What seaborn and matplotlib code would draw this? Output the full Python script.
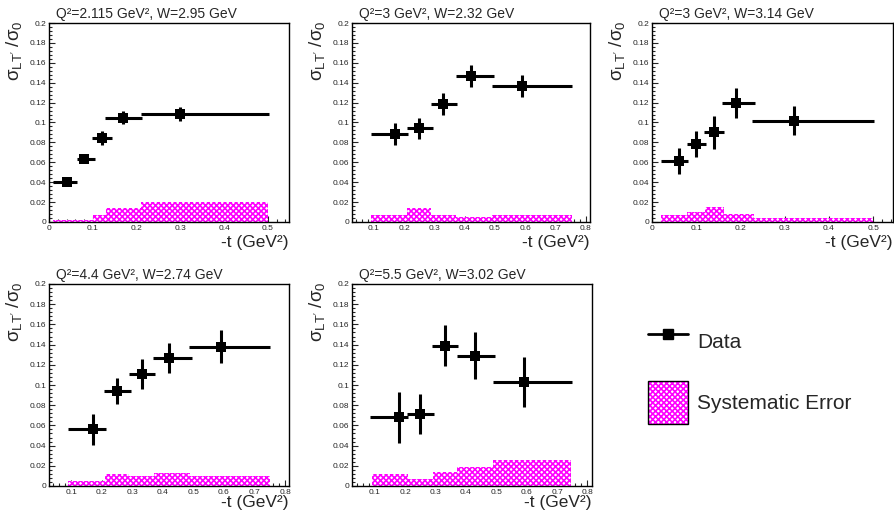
import numpy as np
import pandas as pd
import matplotlib
matplotlib.use('Agg')
import matplotlib.pyplot as plt
from matplotlib.ticker import MultipleLocator, FormatStrFormatter
from matplotlib.lines import Line2D
from matplotlib.patches import Patch
from matplotlib.legend_handler import HandlerTuple
import seaborn as sns

# --- data (-t bins, sigma_LT'/sigma_0) ---
q2_vals = ["2.115", "3", "3", "4.4", "5.5"]
w_vals = ["2.95", "2.32", "3.14", "2.74", "3.02"]

t1 = [0.04, 0.08, 0.12, 0.17, 0.30]
r1 = [0.040, 0.063, 0.084, 0.105, 0.109]
e1 = [0.003, 0.003, 0.007, 0.007, 0.007]
lo1 = [0.010, 0.063, 0.099, 0.129, 0.209]
hi1 = [0.063, 0.104, 0.144, 0.213, 0.503]
edges1 = [0.01, 0.06, 0.10, 0.13, 0.21, 0.50]
sys1 = [0.002, 0.002, 0.007, 0.014, 0.020]

t2 = [0.17, 0.25, 0.33, 0.42, 0.59]
r2 = [0.088, 0.094, 0.119, 0.147, 0.137]
e2 = [0.011, 0.011, 0.011, 0.011, 0.011]
lo2 = [0.091, 0.209, 0.289, 0.370, 0.492]
hi2 = [0.214, 0.296, 0.376, 0.497, 0.755]
edges2 = [0.09, 0.21, 0.29, 0.37, 0.49, 0.755]
sys2 = [0.007, 0.014, 0.007, 0.005, 0.007]

t3 = [0.06, 0.10, 0.14, 0.19, 0.32]
r3 = [0.061, 0.078, 0.090, 0.120, 0.102]
e3 = [0.013, 0.013, 0.017, 0.015, 0.015]
lo3 = [0.020, 0.079, 0.118, 0.159, 0.227]
hi3 = [0.082, 0.123, 0.163, 0.233, 0.501]
edges3 = [0.02, 0.08, 0.12, 0.163, 0.23, 0.50]
sys3 = [0.007, 0.010, 0.015, 0.008, 0.004]

t4 = [0.17, 0.25, 0.33, 0.42, 0.59]
r4 = [0.056, 0.094, 0.111, 0.127, 0.138]
e4 = [0.015, 0.013, 0.015, 0.015, 0.0165]
lo4 = [0.088, 0.208, 0.288, 0.369, 0.487]
hi4 = [0.213, 0.294, 0.374, 0.495, 0.752]
edges4 = [0.088, 0.21, 0.29, 0.37, 0.49, 0.752]
sys4 = [0.005, 0.012, 0.010, 0.013, 0.010]

t5 = [0.18, 0.25, 0.33, 0.43, 0.59]
r5 = [0.068, 0.071, 0.139, 0.129, 0.103]
e5 = [0.025, 0.020, 0.020, 0.023, 0.025]
lo5 = [0.085, 0.205, 0.287, 0.369, 0.489]
hi5 = [0.210, 0.296, 0.375, 0.497, 0.749]
edges5 = [0.09, 0.21, 0.29, 0.37, 0.49, 0.745]
sys5 = [0.012, 0.007, 0.014, 0.019, 0.026]

panels = [
    (t1, r1, e1, lo1, hi1, edges1, sys1),
    (t2, r2, e2, lo2, hi2, edges2, sys2),
    (t3, r3, e3, lo3, hi3, edges3, sys3),
    (t4, r4, e4, lo4, hi4, edges4, sys4),
    (t5, r5, e5, lo5, hi5, edges5, sys5),
]

# --- layout (pixel boxes: left, top, right, bottom) and x ranges ---
W, H = 895, 511
boxes = [(49, 23, 289, 222), (352, 23, 590, 222), (652, 23, 893, 222),
         (49, 284, 289, 486), (352, 284, 592, 486)]
xlims = [(0, 0.548), (0.028, 0.814), (0, 0.545), (0.027, 0.813), (0.025, 0.815)]
xlabel_gap = [21, 21, 21, 16, 16]   # px below the frame

MAGENTA = '#ff00ff'

sns.set_theme(style='ticks')
plt.rcParams['font.family'] = ['Liberation Sans', 'DejaVu Sans']
plt.rcParams['mathtext.fontset'] = 'custom'
plt.rcParams['mathtext.rm'] = 'Liberation Sans'
plt.rcParams['mathtext.it'] = 'Liberation Sans'
plt.rcParams['hatch.linewidth'] = 1.2

fig = plt.figure(figsize=(W / 100, H / 100), dpi=100)

for i, (t, r, e, lo, hi, edges, sy) in enumerate(panels):
    l, tp, rt, bt = boxes[i]
    ax = fig.add_axes([l / W, 1 - bt / H, (rt - l) / W, (bt - tp) / H])

    t = np.array(t)
    centers = [(a + b) / 2 for a, b in zip(edges[:-1], edges[1:])]
    sys_df = pd.DataFrame({'t': centers, 'sys': sy})

    # systematic error histogram
    sns.histplot(data=sys_df, x='t', weights='sys', bins=list(edges), ax=ax,
                 element='bars', facecolor='white', edgecolor=MAGENTA,
                 hatch='xxxxxx', linewidth=0, alpha=1, zorder=1)

    # data points with bin-width and stat errors
    ax.errorbar(t, r, yerr=e, xerr=[t - np.array(lo), np.array(hi) - t],
                fmt='none', ecolor='black', elinewidth=2.2, capsize=0, zorder=2)
    sns.scatterplot(x=t, y=r, marker='s', s=55, color='black', linewidth=0,
                    ax=ax, zorder=3, legend=False)

    ax.set_xlim(*xlims[i])
    ax.set_ylim(0, 0.2)
    ax.set_xlabel('')
    ax.set_ylabel('')

    ax.xaxis.set_major_locator(MultipleLocator(0.1))
    ax.xaxis.set_minor_locator(MultipleLocator(0.02))
    ax.yaxis.set_major_locator(MultipleLocator(0.02))
    ax.yaxis.set_minor_locator(MultipleLocator(0.004))
    ax.xaxis.set_major_formatter(FormatStrFormatter('%g'))
    ax.yaxis.set_major_formatter(FormatStrFormatter('%g'))
    ax.tick_params(which='both', direction='in', top=False, right=False,
                   width=0.8, labelsize=6, pad=2)
    ax.tick_params(which='major', length=4.5)
    ax.tick_params(which='minor', length=2.2)
    for sp in ax.spines.values():
        sp.set_visible(True)
        sp.set_linewidth(1.0)
        sp.set_color('black')

    ax.text(0.03, 1.008, f'Q²={q2_vals[i]} GeV², W={w_vals[i]} GeV',
            transform=ax.transAxes, ha='left', va='bottom', fontsize=10)
    ax.text(-0.145, 1.015, r"$\mathregular{\sigma_{LT'}\ /\sigma_0}$",
            transform=ax.transAxes, rotation=90, ha='center', va='top',
            fontsize=13.5)
    ax.text(1.0, -xlabel_gap[i] / (bt - tp), '-t (GeV²)',
            transform=ax.transAxes, ha='right', va='center', fontsize=12.5)

# legend in the empty sixth slot
h_data = Line2D([0], [0], color='black', lw=2, marker='s', ms=6.5)
h_fill = Patch(facecolor='white', edgecolor=MAGENTA, hatch='xxxxxx', linewidth=0)
h_edge = Patch(facecolor='none', edgecolor='black', linewidth=1.0)
fig.legend([h_data, (h_fill, h_edge)], ['Data', 'Systematic Error'],
           handler_map={tuple: HandlerTuple(ndivide=1, pad=0)},
           loc='upper left', bbox_to_anchor=(648 / W, 1 - 320 / H),
           frameon=False, fontsize=15, borderpad=0, borderaxespad=0,
           handlelength=1.9, handleheight=2.8, handletextpad=0.45,
           labelspacing=0.87)

fig.savefig('out.png', dpi=100)
